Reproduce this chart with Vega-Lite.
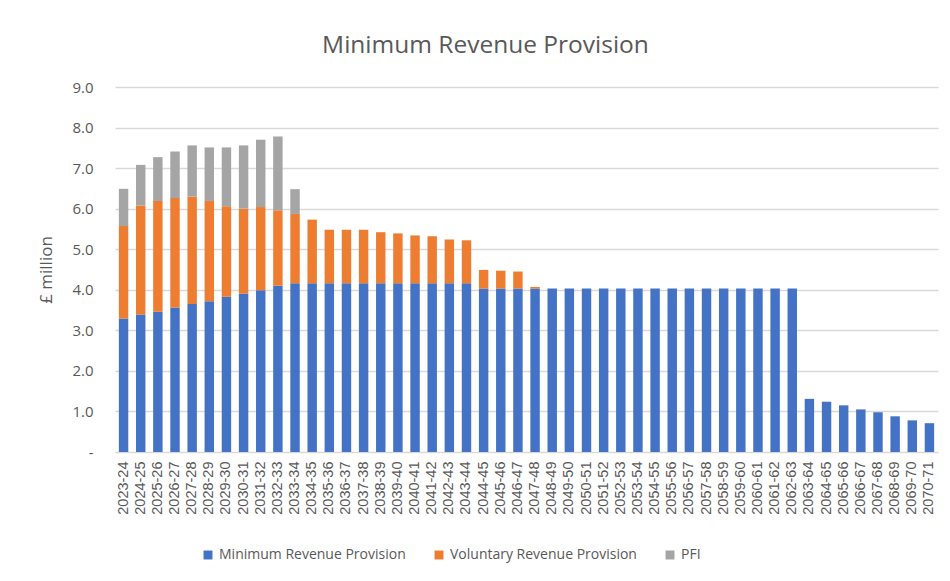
{
  "$schema": "https://vega.github.io/schema/vega-lite/v6.json",
  "autosize": {"type": "none"},
  "width": 823,
  "height": 365,
  "padding": {"left": 115, "top": 87, "right": 12, "bottom": 129},
  "background": "white",
  "config": {"view": {"stroke": null}, "font": "Open Sans"},
  "title": {"text": "Minimum Revenue Provision", "fontSize": 24.5, "fontWeight": "normal", "color": "#595959", "anchor": "middle", "dx": -41, "offset": 22, "font": "Open Sans"},
  "data": {"values": [
    {"year": "2023-24", "series": "Minimum Revenue Provision", "value": 3.29},
    {"year": "2024-25", "series": "Minimum Revenue Provision", "value": 3.39},
    {"year": "2025-26", "series": "Minimum Revenue Provision", "value": 3.46},
    {"year": "2026-27", "series": "Minimum Revenue Provision", "value": 3.56},
    {"year": "2027-28", "series": "Minimum Revenue Provision", "value": 3.65},
    {"year": "2028-29", "series": "Minimum Revenue Provision", "value": 3.72},
    {"year": "2029-30", "series": "Minimum Revenue Provision", "value": 3.83},
    {"year": "2030-31", "series": "Minimum Revenue Provision", "value": 3.90},
    {"year": "2031-32", "series": "Minimum Revenue Provision", "value": 3.99},
    {"year": "2032-33", "series": "Minimum Revenue Provision", "value": 4.10},
    {"year": "2033-34", "series": "Minimum Revenue Provision", "value": 4.16},
    {"year": "2034-35", "series": "Minimum Revenue Provision", "value": 4.16},
    {"year": "2035-36", "series": "Minimum Revenue Provision", "value": 4.16},
    {"year": "2036-37", "series": "Minimum Revenue Provision", "value": 4.16},
    {"year": "2037-38", "series": "Minimum Revenue Provision", "value": 4.16},
    {"year": "2038-39", "series": "Minimum Revenue Provision", "value": 4.16},
    {"year": "2039-40", "series": "Minimum Revenue Provision", "value": 4.16},
    {"year": "2040-41", "series": "Minimum Revenue Provision", "value": 4.16},
    {"year": "2041-42", "series": "Minimum Revenue Provision", "value": 4.16},
    {"year": "2042-43", "series": "Minimum Revenue Provision", "value": 4.16},
    {"year": "2043-44", "series": "Minimum Revenue Provision", "value": 4.16},
    {"year": "2044-45", "series": "Minimum Revenue Provision", "value": 4.03},
    {"year": "2045-46", "series": "Minimum Revenue Provision", "value": 4.03},
    {"year": "2046-47", "series": "Minimum Revenue Provision", "value": 4.03},
    {"year": "2047-48", "series": "Minimum Revenue Provision", "value": 4.03},
    {"year": "2048-49", "series": "Minimum Revenue Provision", "value": 4.03},
    {"year": "2049-50", "series": "Minimum Revenue Provision", "value": 4.03},
    {"year": "2050-51", "series": "Minimum Revenue Provision", "value": 4.03},
    {"year": "2051-52", "series": "Minimum Revenue Provision", "value": 4.03},
    {"year": "2052-53", "series": "Minimum Revenue Provision", "value": 4.03},
    {"year": "2053-54", "series": "Minimum Revenue Provision", "value": 4.03},
    {"year": "2054-55", "series": "Minimum Revenue Provision", "value": 4.03},
    {"year": "2055-56", "series": "Minimum Revenue Provision", "value": 4.03},
    {"year": "2056-57", "series": "Minimum Revenue Provision", "value": 4.03},
    {"year": "2057-58", "series": "Minimum Revenue Provision", "value": 4.03},
    {"year": "2058-59", "series": "Minimum Revenue Provision", "value": 4.03},
    {"year": "2059-60", "series": "Minimum Revenue Provision", "value": 4.03},
    {"year": "2060-61", "series": "Minimum Revenue Provision", "value": 4.03},
    {"year": "2061-62", "series": "Minimum Revenue Provision", "value": 4.03},
    {"year": "2062-63", "series": "Minimum Revenue Provision", "value": 4.03},
    {"year": "2063-64", "series": "Minimum Revenue Provision", "value": 1.31},
    {"year": "2064-65", "series": "Minimum Revenue Provision", "value": 1.24},
    {"year": "2065-66", "series": "Minimum Revenue Provision", "value": 1.15},
    {"year": "2066-67", "series": "Minimum Revenue Provision", "value": 1.05},
    {"year": "2067-68", "series": "Minimum Revenue Provision", "value": 0.98},
    {"year": "2068-69", "series": "Minimum Revenue Provision", "value": 0.88},
    {"year": "2069-70", "series": "Minimum Revenue Provision", "value": 0.78},
    {"year": "2070-71", "series": "Minimum Revenue Provision", "value": 0.71},
    {"year": "2023-24", "series": "Voluntary Revenue Provision", "value": 2.28},
    {"year": "2024-25", "series": "Voluntary Revenue Provision", "value": 2.69},
    {"year": "2025-26", "series": "Voluntary Revenue Provision", "value": 2.73},
    {"year": "2026-27", "series": "Voluntary Revenue Provision", "value": 2.70},
    {"year": "2027-28", "series": "Voluntary Revenue Provision", "value": 2.65},
    {"year": "2028-29", "series": "Voluntary Revenue Provision", "value": 2.47},
    {"year": "2029-30", "series": "Voluntary Revenue Provision", "value": 2.23},
    {"year": "2030-31", "series": "Voluntary Revenue Provision", "value": 2.10},
    {"year": "2031-32", "series": "Voluntary Revenue Provision", "value": 2.05},
    {"year": "2032-33", "series": "Voluntary Revenue Provision", "value": 1.86},
    {"year": "2033-34", "series": "Voluntary Revenue Provision", "value": 1.71},
    {"year": "2034-35", "series": "Voluntary Revenue Provision", "value": 1.57},
    {"year": "2035-36", "series": "Voluntary Revenue Provision", "value": 1.32},
    {"year": "2036-37", "series": "Voluntary Revenue Provision", "value": 1.32},
    {"year": "2037-38", "series": "Voluntary Revenue Provision", "value": 1.32},
    {"year": "2038-39", "series": "Voluntary Revenue Provision", "value": 1.26},
    {"year": "2039-40", "series": "Voluntary Revenue Provision", "value": 1.23},
    {"year": "2040-41", "series": "Voluntary Revenue Provision", "value": 1.18},
    {"year": "2041-42", "series": "Voluntary Revenue Provision", "value": 1.16},
    {"year": "2042-43", "series": "Voluntary Revenue Provision", "value": 1.08},
    {"year": "2043-44", "series": "Voluntary Revenue Provision", "value": 1.06},
    {"year": "2044-45", "series": "Voluntary Revenue Provision", "value": 0.46},
    {"year": "2045-46", "series": "Voluntary Revenue Provision", "value": 0.44},
    {"year": "2046-47", "series": "Voluntary Revenue Provision", "value": 0.42},
    {"year": "2047-48", "series": "Voluntary Revenue Provision", "value": 0.04},
    {"year": "2023-24", "series": "PFI", "value": 0.92},
    {"year": "2024-25", "series": "PFI", "value": 1.00},
    {"year": "2025-26", "series": "PFI", "value": 1.08},
    {"year": "2026-27", "series": "PFI", "value": 1.15},
    {"year": "2027-28", "series": "PFI", "value": 1.26},
    {"year": "2028-29", "series": "PFI", "value": 1.32},
    {"year": "2029-30", "series": "PFI", "value": 1.45},
    {"year": "2030-31", "series": "PFI", "value": 1.56},
    {"year": "2031-32", "series": "PFI", "value": 1.66},
    {"year": "2032-33", "series": "PFI", "value": 1.82},
    {"year": "2033-34", "series": "PFI", "value": 0.61}
  ]},
  "mark": {"type": "bar"},
  "encoding": {
    "x": {
      "field": "year", "type": "ordinal", "sort": null,
      "scale": {"paddingInner": 0.45, "paddingOuter": 0.225},
      "axis": {"title": null, "labelAngle": -90, "labelFontSize": 14.5, "labelColor": "#595959", "labelFont": "Liberation Sans", "ticks": false, "domainColor": "#D9D9D9", "labelPadding": 9}
    },
    "y": {
      "field": "value", "type": "quantitative", "stack": "zero",
      "scale": {"domain": [0, 9]},
      "axis": {"title": "£ million", "titleFontSize": 17, "titleFontWeight": "normal", "titleColor": "#595959", "titlePadding": 16, "values": [0,1,2,3,4,5,6,7,8,9], "labelExpr": "datum.value == 0 ? '-' : format(datum.value, '.1f')", "labelFontSize": 15, "labelColor": "#595959", "labelPadding": 22, "ticks": false, "domain": false, "gridColor": "#D9D9D9", "gridWidth": 1.3}
    },
    "color": {
      "field": "series", "type": "nominal",
      "scale": {"domain": ["Minimum Revenue Provision", "Voluntary Revenue Provision", "PFI"], "range": ["#4472C4", "#ED7D31", "#A5A5A5"]},
      "legend": {"title": null, "orient": "none", "legendX": 86, "legendY": 461, "direction": "horizontal", "symbolType": "square", "symbolSize": 80, "labelFontSize": 14, "labelLimit": 0, "labelColor": "#595959", "columnPadding": 26, "symbolStrokeWidth": 0}
    },
    "order": {"field": "ord", "type": "quantitative"}
  },
  "transform": [
    {"calculate": "datum.series == 'Minimum Revenue Provision' ? 0 : (datum.series == 'PFI' ? 2 : 1)", "as": "ord"}
  ]
}
